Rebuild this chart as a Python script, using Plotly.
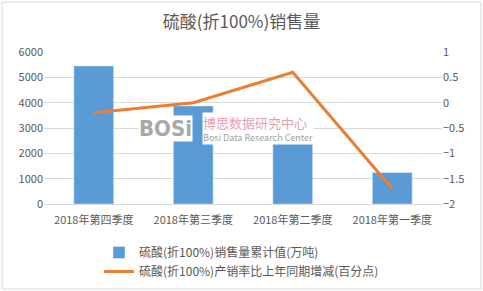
import plotly.graph_objects as go

categories = ["2018年第四季度", "2018年第三季度", "2018年第二季度", "2018年第一季度"]
sales_cum = [5450, 3870, 2600, 1240]
rate_change = [-0.2, 0.0, 0.6, -1.7]
bar_name = "硫酸(折100%)销售量累计值(万吨)"
line_name = "硫酸(折100%)产销率比上年同期增减(百分点)"
title_text = "硫酸(折100%)销售量"

FONT = "Noto Sans CJK SC, Microsoft YaHei, sans-serif"
GRAY = "#595959"

fig = go.Figure()
fig.add_trace(go.Bar(x=categories, y=sales_cum, name=bar_name,
                     marker_color="#5B9BD5", width=0.4, yaxis="y"))
fig.add_trace(go.Scatter(x=categories, y=rate_change, name=line_name, mode="lines",
                         line=dict(color="#ED7D31", width=3), yaxis="y2"))

PW, PH = 398, 152
fig.update_layout(
    width=483, height=291,
    margin=dict(l=44, r=41, t=52, b=87, autoexpand=False),
    paper_bgcolor="white", plot_bgcolor="white",
    font=dict(family=FONT, size=11, color=GRAY),
    title=dict(text=title_text, x=0.5, xanchor="center", y=0.925, yanchor="middle",
               font=dict(size=17, color=GRAY, family=FONT)),
    xaxis=dict(showgrid=False, showline=True, linecolor="#D9D9D9", ticks="",
               ticklabelstandoff=6, tickfont=dict(size=11, color=GRAY)),
    yaxis=dict(range=[0, 6000], dtick=1000, showgrid=True, gridcolor="#D9D9D9",
               zeroline=False, showline=False, ticks="", tickfont=dict(size=11, color=GRAY)),
    yaxis2=dict(range=[-2, 1], dtick=0.5, overlaying="y", side="right", showgrid=False,
                zeroline=False, showline=False, tickfont=dict(size=11, color=GRAY)),
    legend=dict(orientation="v", x=0.5, xanchor="center", xref="container",
                y=(291 - 238) / 291, yanchor="top", yref="container",
                font=dict(size=12, color=GRAY), bgcolor="rgba(0,0,0,0)",
                tracegroupgap=4, itemwidth=30),
    showlegend=True,
    shapes=[dict(type="rect", xref="paper", yref="paper",
                 x0=-42/PW, x1=1+39/PW, y0=-85/PH, y1=1+50/PH,
                 line=dict(color="#D9D9D9", width=1))],
    annotations=[
        dict(xref="paper", yref="paper", x=(138-44)/PW, y=(204-128)/PH,
             xanchor="left", yanchor="middle", showarrow=False, borderpad=0,
             text="<b>BOSi</b>", font=dict(size=22, color="#a8a8a8", family="DejaVu Sans Condensed"),
             bgcolor="white"),
        dict(xref="paper", yref="paper", x=(202-44)/PW, y=(204-128)/PH,
             xanchor="left", yanchor="middle", showarrow=False, borderpad=0,
             align="left",
             text="<span style='color:#e8a0b4;font-size:13px'>博思数据研究中心</span><br>"
                  "<span style='color:#a0a0a0;font-size:9px'>Bosi Data Research Center</span>",
             font=dict(size=10, family=FONT),
             bgcolor="white"),
    ],
)

fig.write_html("out.html")
